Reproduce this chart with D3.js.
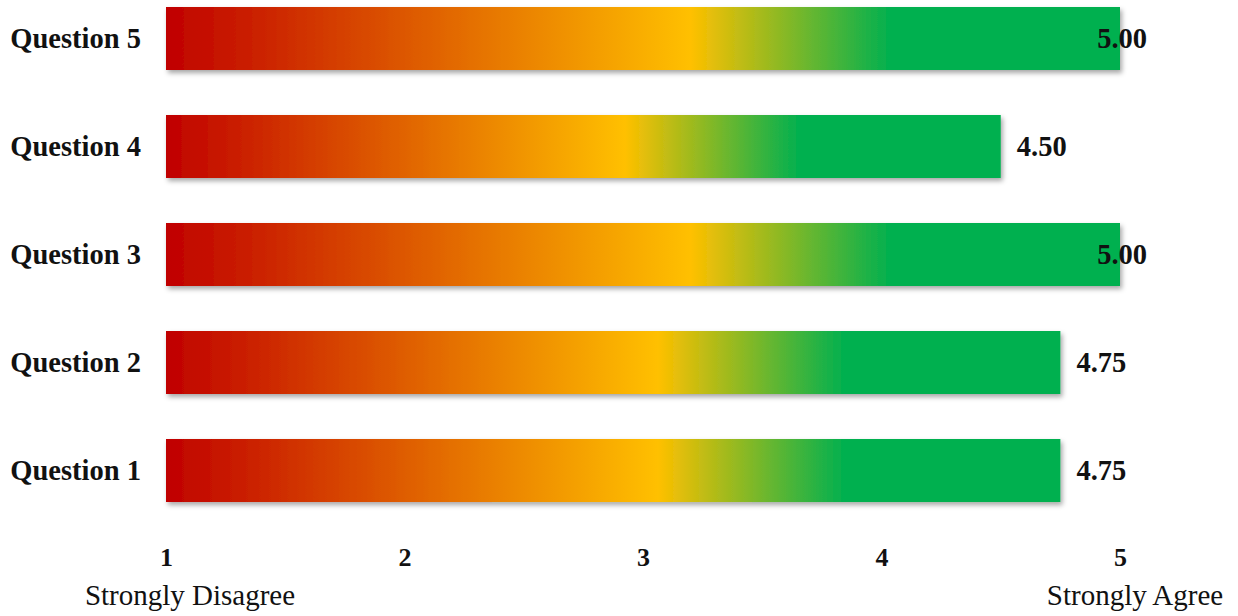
<!DOCTYPE html>
<html>
<head>
<meta charset="utf-8">
<script src="https://cdn.jsdelivr.net/npm/d3@7"></script>
<style>
  body { margin: 0; background: #fff; }
  svg { display: block; }
</style>
</head>
<body>
<svg id="chart" width="1238" height="616"></svg>
<script>
var questions = ["Question 5", "Question 4", "Question 3", "Question 2", "Question 1"];
var scores = [5.00, 4.50, 5.00, 4.75, 4.75];
var ticks = [1, 2, 3, 4, 5];
var endLabels = ["Strongly Disagree", "Strongly Agree"];

var svg = d3.select("#chart");
var serif = "'Liberation Serif', 'Times New Roman', serif";

var x = d3.scaleLinear().domain([1, 5]).range([166, 1120]);
var y = d3.scaleBand()
  .domain(questions)
  .range([-15.5, 524.5])
  .paddingInner(0.4167)
  .paddingOuter(0.2083);

var defs = svg.append("defs");

var shadow = defs.append("filter")
  .attr("id", "shadow")
  .attr("x", "-5%").attr("y", "-20%")
  .attr("width", "110%").attr("height", "150%");
shadow.append("feDropShadow")
  .attr("dx", 2).attr("dy", 3)
  .attr("stdDeviation", 2.5)
  .attr("flood-color", "#000")
  .attr("flood-opacity", 0.35);

// each bar gets its own gradient, stretched over its own width
var grad = defs.append("linearGradient")
  .attr("id", "barGrad")
  .attr("x1", "0%").attr("x2", "100%")
  .attr("y1", "0%").attr("y2", "0%");
grad.append("stop").attr("offset", "0%").attr("stop-color", "#C00000");
grad.append("stop").attr("offset", "55%").attr("stop-color", "#FFC000");
grad.append("stop").attr("offset", "76%").attr("stop-color", "#00B050");
grad.append("stop").attr("offset", "100%").attr("stop-color", "#00B050");

var rows = questions.map(function(q, i) { return { q: q, v: scores[i] }; });

svg.selectAll("rect.bar")
  .data(rows)
  .enter().append("rect")
  .attr("class", "bar")
  .attr("x", x(1))
  .attr("y", function(d) { return y(d.q); })
  .attr("width", function(d) { return x(d.v) - x(1); })
  .attr("height", y.bandwidth())
  .attr("fill", "url(#barGrad)")
  .attr("filter", "url(#shadow)");

// category labels
svg.selectAll("text.cat")
  .data(rows)
  .enter().append("text")
  .attr("class", "cat")
  .attr("x", 141)
  .attr("y", function(d) { return y(d.q) + y.bandwidth() / 2; })
  .attr("dy", "0.35em")
  .attr("text-anchor", "end")
  .style("font-family", serif)
  .style("font-weight", "bold")
  .style("font-size", "28.5px")
  .style("fill", "#111")
  .text(function(d) { return d.q; });

// value labels, kept inside the plot on the right
var rightEdge = 1147;
svg.selectAll("text.val")
  .data(rows)
  .enter().append("text")
  .attr("class", "val")
  .attr("y", function(d) { return y(d.q) + y.bandwidth() / 2; })
  .attr("dy", "0.35em")
  .style("font-family", serif)
  .style("font-weight", "bold")
  .style("font-size", "28.5px")
  .style("fill", "#111")
  .text(function(d) { return d.v.toFixed(2); })
  .attr("x", function(d) {
    var w = this.getComputedTextLength();
    return Math.min(x(d.v) + 16, rightEdge - w);
  });

// axis tick labels
var axis = d3.axisBottom(x).tickValues(ticks).tickFormat(d3.format("d"))
  .tickSize(0).tickPadding(0);
var g = svg.append("g").attr("transform", "translate(0,557)").call(axis);
g.select(".domain").remove();
g.selectAll("text")
  .attr("dy", "0.35em")
  .attr("y", 0)
  .style("font-family", serif)
  .style("font-weight", "bold")
  .style("font-size", "26px")
  .style("fill", "#111");

// scale end labels
svg.append("text")
  .attr("x", x(1) + 24)
  .attr("y", 605)
  .attr("text-anchor", "middle")
  .style("font-family", serif)
  .style("font-size", "29px")
  .style("fill", "#111")
  .text(endLabels[0]);

svg.append("text")
  .attr("x", x(5) + 15)
  .attr("y", 605)
  .attr("text-anchor", "middle")
  .style("font-family", serif)
  .style("font-size", "29px")
  .style("fill", "#111")
  .text(endLabels[1]);
</script>
</body>
</html>
